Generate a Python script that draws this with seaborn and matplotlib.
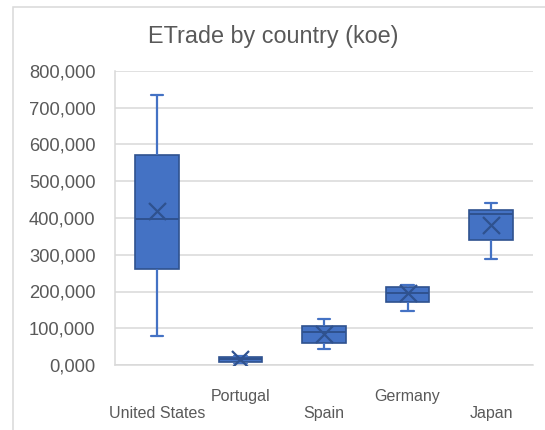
import matplotlib
matplotlib.use("Agg")
import matplotlib.pyplot as plt
from matplotlib.patches import Rectangle
import pandas as pd
import seaborn as sns

# Five-number summaries per country (koe)
countries = ["United States", "Portugal", "Spain", "Germany", "Japan"]
whisker_low = [80000, 2000, 44000, 146000, 289000]
quartile_1 = [260000, 8000, 60000, 171000, 340000]
medians = [397000, 15000, 90000, 197000, 410000]
quartile_3 = [571000, 22000, 106000, 211000, 423000]
whisker_high = [736000, 25000, 124000, 219000, 441000]
means = [418000, 16000, 83000, 195000, 382000]

y_ticks = [0, 100000, 200000, 300000, 400000, 500000, 600000, 700000, 800000]
y_tick_labels = ["0,000", "100,000", "200,000", "300,000", "400,000",
                 "500,000", "600,000", "700,000", "800,000"]

# Long-form table: with five points per group the quartiles fall exactly on
# the stored values, and whis=(0, 100) puts the whiskers at min / max.
rows = []
for c, a, b, m, d, e in zip(countries, whisker_low, quartile_1, medians,
                            quartile_3, whisker_high):
    for v in (a, b, m, d, e):
        rows.append({"country": c, "value": v})
df = pd.DataFrame(rows)

sns.set_theme(style="white")
plt.rcParams["font.family"] = ["Liberation Sans", "DejaVu Sans"]

FILL = "#4472C4"
EDGE = "#2F528F"
GRID = "#D9D9D9"
TEXT = "#595959"

fig = plt.figure(figsize=(5.45, 4.30), dpi=100)
ax = fig.add_axes([115 / 545, 1 - 365 / 430, (533 - 115) / 545, (365 - 71) / 430])

sns.boxplot(
    data=df, x="country", y="value", order=countries,
    whis=(0, 100), width=0.52, saturation=1, color=FILL,
    linecolor=EDGE, linewidth=1.2,
    whiskerprops=dict(color=FILL, linewidth=1.6),
    capprops=dict(color=FILL, linewidth=1.6),
    medianprops=dict(color=EDGE, linewidth=1.4),
    boxprops=dict(edgecolor=EDGE, linewidth=1.2),
    capwidths=0.15,
    ax=ax,
)

# Mean markers
sns.scatterplot(x=countries, y=means, marker="x", s=150, color=EDGE,
                linewidth=1.6, zorder=5, ax=ax)

ax.set_ylim(0, 800000)
ax.set_xlim(-0.5, len(countries) - 0.5)
ax.set_yticks(y_ticks)
ax.set_yticklabels(y_tick_labels, fontsize=13.2, color=TEXT)
ax.yaxis.grid(True, color=GRID, linewidth=1.1)
ax.set_axisbelow(True)
ax.tick_params(axis="y", length=0, pad=14)

# Staggered category labels
stagger = [("\n" + c) if i % 2 == 0 else c for i, c in enumerate(countries)]
ax.set_xticks(range(len(countries)))
ax.set_xticklabels(stagger, fontsize=11.5, color=TEXT, linespacing=1.2)
ax.tick_params(axis="x", length=0, pad=17)

ax.set_xlabel("")
ax.set_ylabel("")
for side in ("top", "right"):
    ax.spines[side].set_visible(False)
for side in ("left", "bottom"):
    ax.spines[side].set_color(GRID)
    ax.spines[side].set_linewidth(1.1)

fig.text(273 / 545, 1 - 37 / 430, "ETrade by country (koe)",
         ha="center", va="center", fontsize=16.8, color=TEXT)

# Chart-area frame
fig.patches.append(Rectangle((13 / 545, -0.1), 1.2, 1.1 - 7 / 430,
                             transform=fig.transFigure, fill=False,
                             edgecolor=GRID, linewidth=1.1))

fig.savefig("out.png", dpi=100, facecolor="white")
